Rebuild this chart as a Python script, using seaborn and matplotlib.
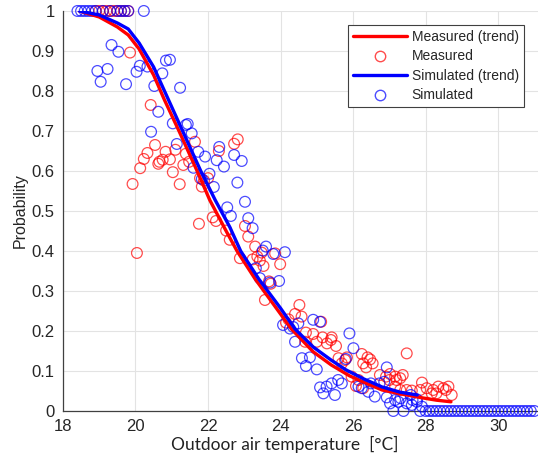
import matplotlib
matplotlib.use("Agg")
import matplotlib.pyplot as plt
import pandas as pd
import seaborn as sns
from matplotlib.lines import Line2D

# trend curves
meas_trend_t = [18.45, 19.0, 19.5, 19.8, 20.1, 20.5, 20.8, 21.2, 21.7, 22.05, 22.5, 22.8,
                23.3, 23.9, 24.3, 24.9, 25.4, 25.9, 26.4, 26.8, 27.3, 27.9, 28.3, 28.7]
meas_trend_p = [1.0, 0.985, 0.96, 0.94, 0.905, 0.84, 0.7775, 0.70, 0.60, 0.527, 0.45, 0.40,
                0.33, 0.255, 0.205, 0.148, 0.115, 0.088, 0.068, 0.0525, 0.043, 0.033, 0.027, 0.023]
sim_trend_t = [18.45, 19.0, 19.5, 19.8, 20.1, 20.5, 20.9, 21.3, 21.8, 22.2, 22.6, 22.9,
               23.4, 24.0, 24.4, 24.9, 25.4, 25.8, 26.3, 26.8, 27.3, 27.77]
sim_trend_p = [1.0, 0.99, 0.97, 0.955, 0.92, 0.86, 0.78, 0.70, 0.60, 0.527, 0.46, 0.40,
               0.33, 0.257, 0.205, 0.16, 0.127, 0.103, 0.08, 0.06, 0.047, 0.04]

# measured points
meas_t = [18.9, 19.0, 19.1, 19.2, 19.3, 19.4, 19.5, 19.6, 19.7, 19.8,
          19.85, 19.92, 20.04, 20.13, 20.23, 20.33, 20.42, 20.54, 20.63, 20.66,
          20.75, 20.83, 20.95, 21.03, 21.1, 21.22, 21.32, 21.39, 21.48, 21.64,
          21.75, 21.78, 21.83, 21.89, 22.0, 22.13, 22.22, 22.3, 22.5, 22.6,
          22.72, 22.82, 22.88, 23.02, 23.11, 23.23, 23.3, 23.36, 23.43, 23.48,
          23.53, 23.57, 23.68, 23.73, 23.85, 23.99, 24.15, 24.22, 24.4, 24.52,
          24.58, 24.68, 24.7, 24.9, 25.0, 25.12, 25.16, 25.28, 25.39, 25.41,
          25.53, 25.6, 25.69, 25.78, 25.83, 25.96, 26.08, 26.15, 26.24, 26.28,
          26.28, 26.36, 26.4, 26.47, 26.54, 26.74, 26.91, 27.0, 27.02, 27.16,
          27.16, 27.2, 27.3, 27.3, 27.37, 27.48, 27.48, 27.62, 27.85, 27.9,
          28.03, 28.17, 28.21, 28.3, 28.35, 28.49, 28.56, 28.63, 28.72]
meas_p = [1.0, 1.0, 1.0, 1.0, 1.0, 1.0, 1.0, 1.0, 1.0, 1.0,
          0.896, 0.5675, 0.395, 0.607, 0.63, 0.645, 0.765, 0.665, 0.618, 0.623,
          0.628, 0.648, 0.629, 0.597, 0.653, 0.567, 0.615, 0.643, 0.623, 0.673,
          0.468, 0.582, 0.561, 0.576, 0.582, 0.484, 0.475, 0.65, 0.451, 0.428,
          0.668, 0.679, 0.382, 0.4625, 0.436, 0.379, 0.411, 0.386, 0.376, 0.396,
          0.3625, 0.2775, 0.324, 0.318, 0.394, 0.367, 0.221, 0.229, 0.2425, 0.265,
          0.236, 0.173, 0.196, 0.1925, 0.173, 0.223, 0.184, 0.169, 0.1775, 0.184,
          0.1625, 0.132, 0.119, 0.1275, 0.134, 0.086, 0.0625, 0.0775, 0.1425, 0.119,
          0.057, 0.109, 0.134, 0.129, 0.119, 0.09, 0.086, 0.0775, 0.0925, 0.086,
          0.061, 0.0775, 0.082, 0.0525, 0.09, 0.144, 0.0525, 0.051, 0.0525, 0.071,
          0.057, 0.044, 0.0525, 0.044, 0.061, 0.057, 0.0525, 0.061, 0.04]

# simulated points
sim_t = [18.4, 18.5, 18.6, 18.7, 18.8, 18.9, 19.1, 19.3, 19.5, 19.6, 19.7, 19.8, 20.23,
         18.95, 19.04, 19.23, 19.34, 19.53, 19.74, 20.03, 20.12, 20.33, 20.43,
         20.52, 20.63, 20.74, 20.84, 20.95, 21.03, 21.14, 21.23, 21.39, 21.44,
         21.55, 21.6, 21.73, 21.83, 21.92, 22.04, 22.16, 22.24, 22.31, 22.44,
         22.53, 22.63, 22.72, 22.81, 22.93, 23.02, 23.11, 23.23, 23.32, 23.43,
         23.51, 23.6, 23.71, 23.8, 23.96, 24.12, 24.07, 24.26, 24.35, 24.49,
         24.4, 24.59, 24.7, 24.81, 24.9, 25.0, 25.09, 25.09, 25.18, 25.27,
         25.41, 25.5, 25.59, 25.69, 25.8, 25.9, 26.01, 26.15, 26.24, 26.42,
         26.49, 26.6, 26.73, 26.86, 26.93, 26.93, 27.02, 27.11, 27.16, 27.25,
         27.31, 27.39, 27.48, 27.59, 27.62, 27.64, 27.76, 27.76, 27.85, 27.9,
         28.0, 28.1, 28.2, 28.3, 28.4, 28.5, 28.6, 28.7, 28.8, 28.9,
         29.0, 29.1, 29.2, 29.3, 29.4, 29.5, 29.6, 29.7, 29.8, 29.9,
         30.0, 30.1, 30.2, 30.3, 30.4, 30.5, 30.6, 30.7, 30.8, 30.9, 31.0]
sim_p = [1.0, 1.0, 1.0, 1.0, 1.0, 1.0, 1.0, 1.0, 1.0, 1.0, 1.0, 1.0, 1.0,
         0.85, 0.823, 0.855, 0.915, 0.898, 0.817, 0.848, 0.863, 0.861, 0.698,
         0.8125, 0.748, 0.844, 0.876, 0.878, 0.719, 0.6675, 0.808, 0.715, 0.7175,
         0.694, 0.608, 0.648, 0.58, 0.636, 0.593, 0.56, 0.627, 0.66, 0.611,
         0.509, 0.4875, 0.64, 0.571, 0.625, 0.523, 0.482, 0.457, 0.357, 0.332,
         0.401, 0.411, 0.321, 0.3925, 0.325, 0.397, 0.215, 0.206, 0.21, 0.219,
         0.173, 0.132, 0.1125, 0.134, 0.228, 0.104, 0.223, 0.059, 0.044, 0.061,
         0.069, 0.04, 0.0775, 0.069, 0.13, 0.194, 0.157, 0.061, 0.057, 0.048,
         0.069, 0.036, 0.069, 0.073, 0.109, 0.034, 0.019, 0.0, 0.0275, 0.023,
         0.032, 0.0, 0.019, 0.04, 0.015, 0.0275, 0.023, 0.029, 0.0, 0.011,
         0.0, 0.0, 0.0, 0.0, 0.0, 0.0, 0.0, 0.0, 0.0, 0.0,
         0.0, 0.0, 0.0, 0.0, 0.0, 0.0, 0.0, 0.0, 0.0, 0.0,
         0.0, 0.0, 0.0, 0.0, 0.0, 0.0, 0.0, 0.0, 0.0, 0.0, 0.0]

x_ticks = [18, 20, 22, 24, 26, 28, 30]
y_ticks = [0, 0.1, 0.2, 0.3, 0.4, 0.5, 0.6, 0.7, 0.8, 0.9, 1]
y_tick_labels = ["0", "0.1", "0.2", "0.3", "0.4", "0.5", "0.6", "0.7", "0.8", "0.9", "1"]

RED = "#ff0000"
BLUE = "#0000ff"

sns.set_style("whitegrid")
plt.rcParams["font.family"] = ["Liberation Sans", "DejaVu Sans"]

fig = plt.figure(figsize=(5.38, 4.59), dpi=100)
ax = fig.add_axes([0.117, 0.1046, 0.883, 0.8715])

meas = pd.DataFrame({"t": meas_t, "p": meas_p})
sim = pd.DataFrame({"t": sim_t, "p": sim_p})

for df, col in [(meas, RED), (sim, BLUE)]:
    sns.scatterplot(data=df, x="t", y="p", ax=ax, marker="o", s=60,
                    facecolors="none", edgecolor=col, linewidth=0.9, alpha=0.7,
                    zorder=3, clip_on=False)
sns.lineplot(x=meas_trend_t, y=meas_trend_p, ax=ax, color=RED, linewidth=2.4, zorder=4)
sns.lineplot(x=sim_trend_t, y=sim_trend_p, ax=ax, color=BLUE, linewidth=2.4, zorder=5)

ax.set_xlim(18, 31.1)
ax.set_ylim(0, 1)
ax.set_xticks(x_ticks)
ax.set_yticks(y_ticks)
ax.set_yticklabels(y_tick_labels)
ax.grid(True, color="#e3e3e3", linewidth=0.8)
ax.tick_params(direction="in", length=4, width=0.8, colors="#404040",
               labelcolor="#262626", labelsize=12, pad=6)
for side in ["top", "right"]:
    ax.spines[side].set_visible(False)
for side in ["left", "bottom"]:
    ax.spines[side].set_color("#404040")
    ax.spines[side].set_linewidth(0.9)

ax.set_xlabel("Outdoor air temperature  [°C]", fontsize=12.5, family=["Lato", "DejaVu Sans"],
              color="#222222", labelpad=1)
ax.xaxis.set_label_coords(0.467, -0.062)
ax.set_ylabel("Probability", fontsize=11.5, color="#262626", labelpad=3)

handles = [
    Line2D([], [], color=RED, linewidth=2.4),
    Line2D([], [], linestyle="none", marker="o", markerfacecolor="none",
           markeredgecolor=RED, markersize=7.5, alpha=0.7),
    Line2D([], [], color=BLUE, linewidth=2.4),
    Line2D([], [], linestyle="none", marker="o", markerfacecolor="none",
           markeredgecolor=BLUE, markersize=7.5, alpha=0.7),
]
labels = ["Measured (trend)", "Measured", "Simulated (trend)", "Simulated"]
leg = ax.legend(handles, labels, loc="upper right", bbox_to_anchor=(0.97, 0.965),
                fontsize=10, handlelength=3.9, handletextpad=0.35, borderpad=0.35,
                labelspacing=0.4, fancybox=False, framealpha=1, borderaxespad=0)
leg.get_frame().set_edgecolor("#404040")
leg.get_frame().set_linewidth(0.8)

fig.savefig("out.png", dpi=100)
